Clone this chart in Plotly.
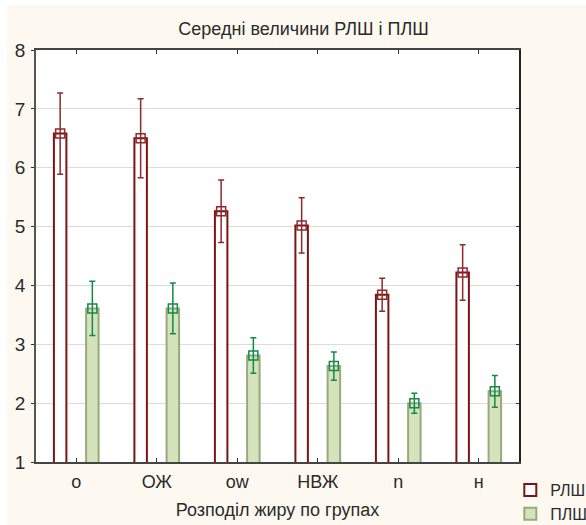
import numpy as np
import plotly.graph_objects as go

categories = ["o", "ОЖ", "ow", "НВЖ", "n", "н"]
rlsh_mean = [6.58, 6.50, 5.26, 5.02, 3.84, 4.22]
rlsh_err = [0.69, 0.67, 0.53, 0.47, 0.28, 0.47]
plsh_mean = [3.61, 3.61, 2.81, 2.63, 2.00, 2.20]
plsh_err = [0.46, 0.43, 0.30, 0.24, 0.17, 0.27]
series_names = ["РЛШ", "ПЛШ"]

RED = "#7d1414"
RED_ERR = "#8e2a2e"
GREEN_FILL = "#d5e3bc"
GREEN_LINE = "#98aa7c"
GREEN = "#138a48"
FONT = "Liberation Sans, Arial, sans-serif"
TXT = "#2b2b2b"

idx = np.arange(len(categories))
shift = 0.2
bw = 0.155

fig = go.Figure()
fig.add_trace(go.Bar(
    x=idx - shift, y=rlsh_mean, width=bw, name=series_names[0],
    marker=dict(color="white", line=dict(color=RED, width=2)),
))
fig.add_trace(go.Bar(
    x=idx + shift, y=plsh_mean, width=bw, name=series_names[1],
    marker=dict(color=GREEN_FILL, line=dict(color=GREEN_LINE, width=2)),
))
fig.add_trace(go.Scatter(
    x=idx - shift, y=rlsh_mean, mode="markers", showlegend=False,
    marker=dict(symbol="square-open", size=9, color=RED_ERR, line=dict(width=1.5)),
    error_y=dict(type="data", array=rlsh_err, color=RED_ERR, thickness=1.5, width=3),
))
fig.add_trace(go.Scatter(
    x=idx + shift, y=plsh_mean, mode="markers", showlegend=False,
    marker=dict(symbol="square-open", size=9, color=GREEN, line=dict(width=1.5)),
    error_y=dict(type="data", array=plsh_err, color=GREEN, thickness=1.5, width=3),
))
# right-side axis (ticks inside)
fig.add_trace(go.Scatter(x=[None], y=[None], yaxis="y2", showlegend=False))

fig.update_layout(
    width=586, height=525,
    margin=dict(l=36, r=67, t=50, b=63, autoexpand=False),
    paper_bgcolor="#fdf9f0",
    plot_bgcolor="white",
    barmode="overlay",
    font=dict(family=FONT, color=TXT, size=18),
    title=dict(text="Середні величини РЛШ і ПЛШ", x=0.518, xanchor="center",
               y=0.945, yanchor="middle", font=dict(size=18, color=TXT)),
    xaxis=dict(
        range=[-0.5, 5.5], tickmode="array", tickvals=idx, ticktext=categories,
        ticks="inside", ticklen=4, tickcolor="#333", showgrid=False,
        showline=True, linecolor="#444", linewidth=1.5, mirror="ticks",
        tickfont=dict(size=18), zeroline=False, ticklabelstandoff=3,
        title=dict(text="Розподіл жиру по групах", font=dict(size=18), standoff=12),
    ),
    yaxis=dict(
        range=[1, 8], dtick=1, ticks="outside", ticklen=3, tickcolor="#333",
        showgrid=True, gridcolor="#dcdcdc", gridwidth=1,
        showline=True, linecolor="#555", linewidth=1.5, mirror=True,
        tickfont=dict(size=19), zeroline=False, ticklabelstandoff=2,
    ),
    yaxis2=dict(
        range=[1, 8], dtick=1, overlaying="y", side="right", ticks="inside",
        ticklen=3, tickcolor="#333", showticklabels=False, showgrid=False,
        showline=True, linecolor="#222", linewidth=2, zeroline=False,
    ),
    legend=dict(
        x=0.982, xanchor="left", y=-0.027, yanchor="top",
        bgcolor="rgba(0,0,0,0)", font=dict(size=16, color=TXT),
        tracegroupgap=0, itemsizing="constant",
    ),
    shapes=[
        dict(type="rect", xref="paper", yref="paper", x0=-0.2, x1=(7 - 36) / 483,
             y0=-0.3, y1=1.2, fillcolor="white", line=dict(width=0), layer="below"),
        dict(type="rect", xref="paper", yref="paper", x0=-0.2, x1=1.3,
             y0=(462 - 5) / 412, y1=1.3, fillcolor="white", line=dict(width=0), layer="below"),
    ],
)

fig.write_html("out.html", config={"displayModeBar": False},
               post_script="document.body.style.margin='0px';")
